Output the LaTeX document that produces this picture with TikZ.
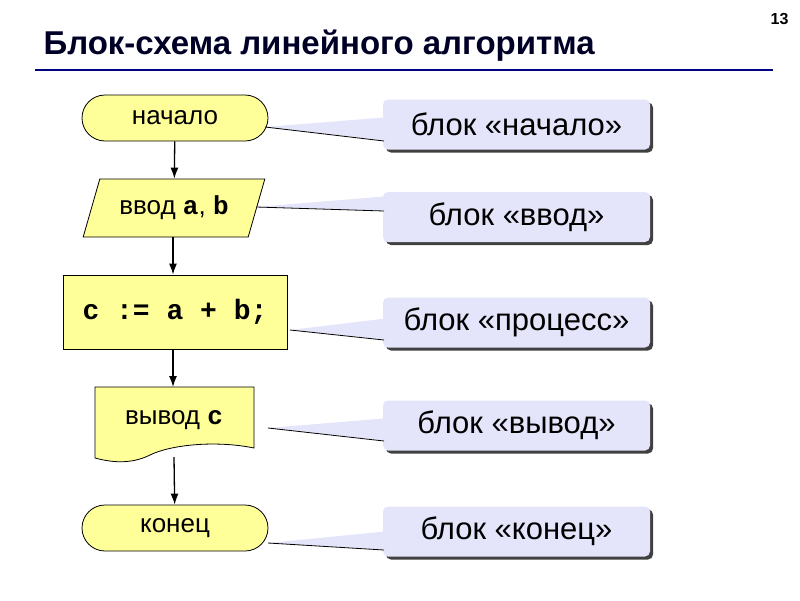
\documentclass[tikz,border=0pt]{standalone}
\usepackage{fontspec}
\setmainfont{Liberation Sans}
\newfontfamily\mono{Liberation Mono}
\usetikzlibrary{shapes.geometric,shapes.misc}
\definecolor{fyel}{HTML}{FFFF99}
\definecolor{flav}{HTML}{E4E4FA}
\definecolor{navy}{HTML}{000080}
\tikzset{
 shp/.style={draw, fill=fyel, line width=0.8pt, inner sep=0pt, font=\fontsize{26}{28}\selectfont},
 term/.style={shp, rounded rectangle, minimum width=186pt, minimum height=46pt},
 io/.style={shp, trapezium, trapezium left angle=63, trapezium right angle=117, minimum width=182pt, minimum height=58pt, trapezium stretches=true},
 proc/.style={shp, rectangle, minimum width=224pt, minimum height=74pt},
 docu/.style={rectangle, inner sep=0pt, font=\fontsize{26}{28}\selectfont},
 call/.style={fill=flav, rounded corners=5pt, minimum width=267pt, minimum height=50pt, inner sep=0pt, font=\fontsize{31}{33}\selectfont},
 arr/.style={-{Latex[length=11pt,width=8pt]}, line width=1.3pt},
}
\usetikzlibrary{arrows.meta}
\begin{document}
\begin{tikzpicture}[x=1pt,y=-1pt]
\useasboundingbox (0,0) rectangle (800,600);
\node[anchor=base west, font=\fontsize{33}{36}\selectfont\bfseries, text=black!85!blue] (title) at (40,54) {Блок-схема линейного алгоритма};
\node[anchor=base east, font=\fontsize{16}{18}\selectfont\bfseries] (num) at (792,24) {13};
\draw[navy, line width=2.5pt] (35,70) coordinate (l1) -- (773,70) coordinate (l2);

\node[term] (n1) at (175,118) {начало};
\node[io] (n2) at (174,208) {ввод {\mono\bfseries a}, {\mono\bfseries b}};
\node[proc, font=\fontsize{28}{30}\selectfont] (n3) at (175,312) {\mono\bfseries c := a + b;};
\draw[shp] (95,387) -- (254,387) -- (254,448) .. controls (215,440) and (170,445) .. (150,455) .. controls (130,465) and (110,462) .. (95,458) -- cycle;
\node[docu] (n4) at (174,420) {вывод {\mono\bfseries c}};
\node[term] (n5) at (175,528) {конец};
\coordinate (b4) at (174,457);

\draw[arr] (n1) -- (n2);
\draw[arr] (n2.south -| 173,0) -- (n3.north -| 173,0);
\draw[arr] (n3.south -| 173,0) -- (173,387);
\draw[arr] (b4) -- (n5);

\foreach \y/\t [count=\i] in {124.5/блок «начало», 217/блок «ввод», 322.5/блок «процесс», 425.5/блок «вывод», 531.5/блок «конец»}{
 \node[call, fill=black!75] at (519.5,\y+3) {};
 \node[call] (c\i) at (516.5,\y) {\t};
}
\fill[flav] (265,127) -- (390,117) -- (390,141) -- cycle;
\draw[line width=0.8pt] (265,127) -- (384,141);
\fill[flav] (256,207) -- (390,196) -- (390,211) -- cycle;
\draw[line width=0.8pt] (256,207) -- (384,211);
\fill[flav] (290,330) -- (390,318) -- (390,340) -- cycle;
\draw[line width=0.8pt] (290,330) -- (384,340);
\fill[flav] (268,428) -- (390,418) -- (390,441) -- cycle;
\draw[line width=0.8pt] (268,428) -- (384,441);
\fill[flav] (268,543) -- (390,531) -- (390,550) -- cycle;
\draw[line width=0.8pt] (268,543) -- (384,550);
\end{tikzpicture}
\end{document}
